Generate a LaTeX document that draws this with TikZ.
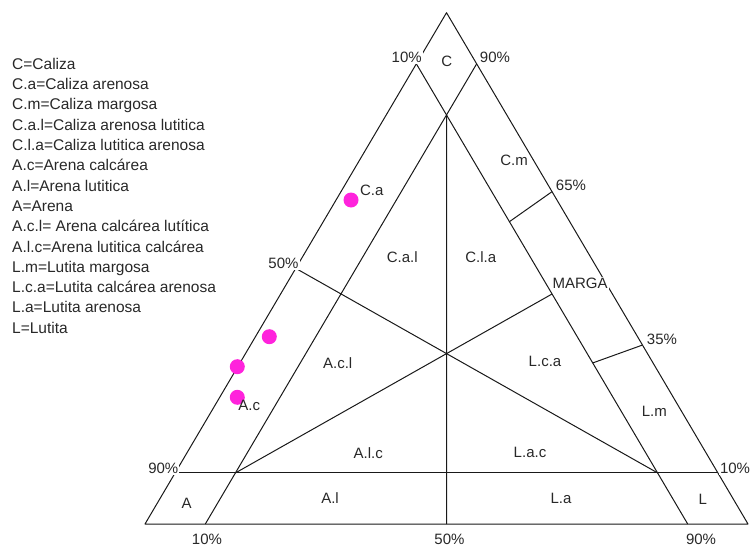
\documentclass[tikz,border=0pt]{standalone}
\usepackage{fontspec}
\setmainfont{Liberation Sans}
\usetikzlibrary{calc}
\definecolor{ink}{RGB}{25,25,25}
\definecolor{txt}{RGB}{40,40,40}
\definecolor{sample}{RGB}{255,35,220}
\begin{document}
\begin{tikzpicture}[x=1pt,y=-1pt,
  edge/.style={draw=ink,line width=1pt,line join=round},
  zone/.style={text=txt,font=\fontsize{15}{18}\selectfont,inner sep=0pt},
  pct/.style={zone,fill=white,inner sep=1pt},
  key/.style={text=txt,font=\fontsize{15.5}{18}\selectfont,anchor=base west,inner sep=0pt},
  dot/.style={circle,fill=sample,minimum size=15pt,inner sep=0pt}]

\path[use as bounding box] (0,0) rectangle (754,546);

% outer triangle corners: sand (A), shale (B), limestone (C)
\coordinate (A) at (145,524);
\coordinate (B) at (748,524);
\coordinate (C) at (446.5,12.7);

% points on the sides
\coordinate (L90) at ($(A)!0.9!(C)$);
\coordinate (R90) at ($(B)!0.9!(C)$);
\coordinate (L10) at ($(A)!0.1!(C)$);
\coordinate (R10) at ($(B)!0.1!(C)$);
\coordinate (L50) at ($(A)!0.5!(C)$);
\coordinate (B10) at ($(A)!0.1!(B)$);
\coordinate (B50) at ($(A)!0.5!(B)$);
\coordinate (B90) at ($(A)!0.9!(B)$);
\coordinate (R65) at ($(B)!0.65!(C)$);
\coordinate (R35) at ($(B)!0.35!(C)$);

% inner construction points
\coordinate (T)  at (intersection of B10--R90 and B90--L90);
\coordinate (P1) at (intersection of B10--R90 and L10--R10);
\coordinate (P2) at (intersection of B90--L90 and L10--R10);
\coordinate (M)  at (intersection of L50--P2 and T--B50);
\coordinate (Q)  at (intersection of P1--M and B90--L90);
\coordinate (S65) at ($(B90)!0.657!(L90)$);
\coordinate (S35) at ($(B90)!0.35!(L90)$);

% triangle and field boundaries
\draw[edge] (A) -- (B) -- (C) -- cycle;
\draw[edge] (L10) -- (R10);
\draw[edge] (B10) -- (R90);
\draw[edge] (B90) -- (L90);
\draw[edge] (T) -- (B50);
\draw[edge] (L50) -- (P2);
\draw[edge] (P1) -- (Q);
\draw[edge] (R65) -- (S65);
\draw[edge] (R35) -- (S35);

% sample points
\node[dot] (d1) at (351,200) {};
\node[dot] (d2) at (269.3,336.7) {};
\node[dot] (d3) at (237.3,366.7) {};
\node[dot] (d4) at (237.3,397.3) {};

% percentage marks
\node[pct] (p1)  at (406.7,57.3) {10\%};
\node[pct] (p2)  at (495,57.3) {90\%};
\node[pct] (p3)  at (571,185) {65\%};
\node[pct] (p4)  at (283.5,263.5) {50\%};
\node[pct] (p5)  at (662,339) {35\%};
\node[pct] (p6)  at (163.3,468.3) {90\%};
\node[pct] (p7)  at (735,468.3) {10\%};
\node[pct] (p8)  at (207,539) {10\%};
\node[pct] (p9)  at (449.5,539) {50\%};
\node[pct] (p10) at (701,539) {90\%};

% field names
\node[zone] (zC)   at (446.7,61) {C};
\node[zone] (zCm)  at (514,160) {C.m};
\node[zone] (zCa)  at (371.7,190) {C.a};
\node[zone] (zCal) at (402.3,256.7) {C.a.l};
\node[zone] (zCla) at (480.7,256.7) {C.l.a};
\node[zone,fill=white,inner sep=1pt] (zMarga) at (580,283.5) {MARGA};
\node[zone] (zAcl) at (337.7,363.3) {A.c.l};
\node[zone] (zLca) at (545,361.7) {L.c.a};
\node[zone] (zAc)  at (249.3,405) {A.c};
\node[zone] (zLm)  at (654.3,411.7) {L.m};
\node[zone] (zAlc) at (368.3,452.7) {A.l.c};
\node[zone] (zLac) at (530,452.7) {L.a.c};
\node[zone] (zA)   at (186.7,503) {A};
\node[zone] (zAl)  at (330,498) {A.l};
\node[zone] (zLa)  at (561,498) {L.a};
\node[zone] (zL)   at (702.7,499) {L};

% key to the abbreviations
\foreach \i/\t in {0/{C=Caliza},
                   1/{C.a=Caliza arenosa},
                   2/{C.m=Caliza margosa},
                   3/{C.a.l=Caliza arenosa lutitica},
                   4/{C.l.a=Caliza lutitica arenosa},
                   5/{A.c=Arena calcárea},
                   6/{A.l=Arena lutitica},
                   7/{A=Arena},
                   8/{A.c.l= Arena calcárea lutítica},
                   9/{A.l.c=Arena lutitica calcárea},
                   10/{L.m=Lutita margosa},
                   11/{L.c.a=Lutita calcárea arenosa},
                   12/{L.a=Lutita arenosa},
                   13/{L=Lutita}}
  \node[key] (k\i) at (12,{69.3+20.3*\i}) {\t};

\end{tikzpicture}
\end{document}
